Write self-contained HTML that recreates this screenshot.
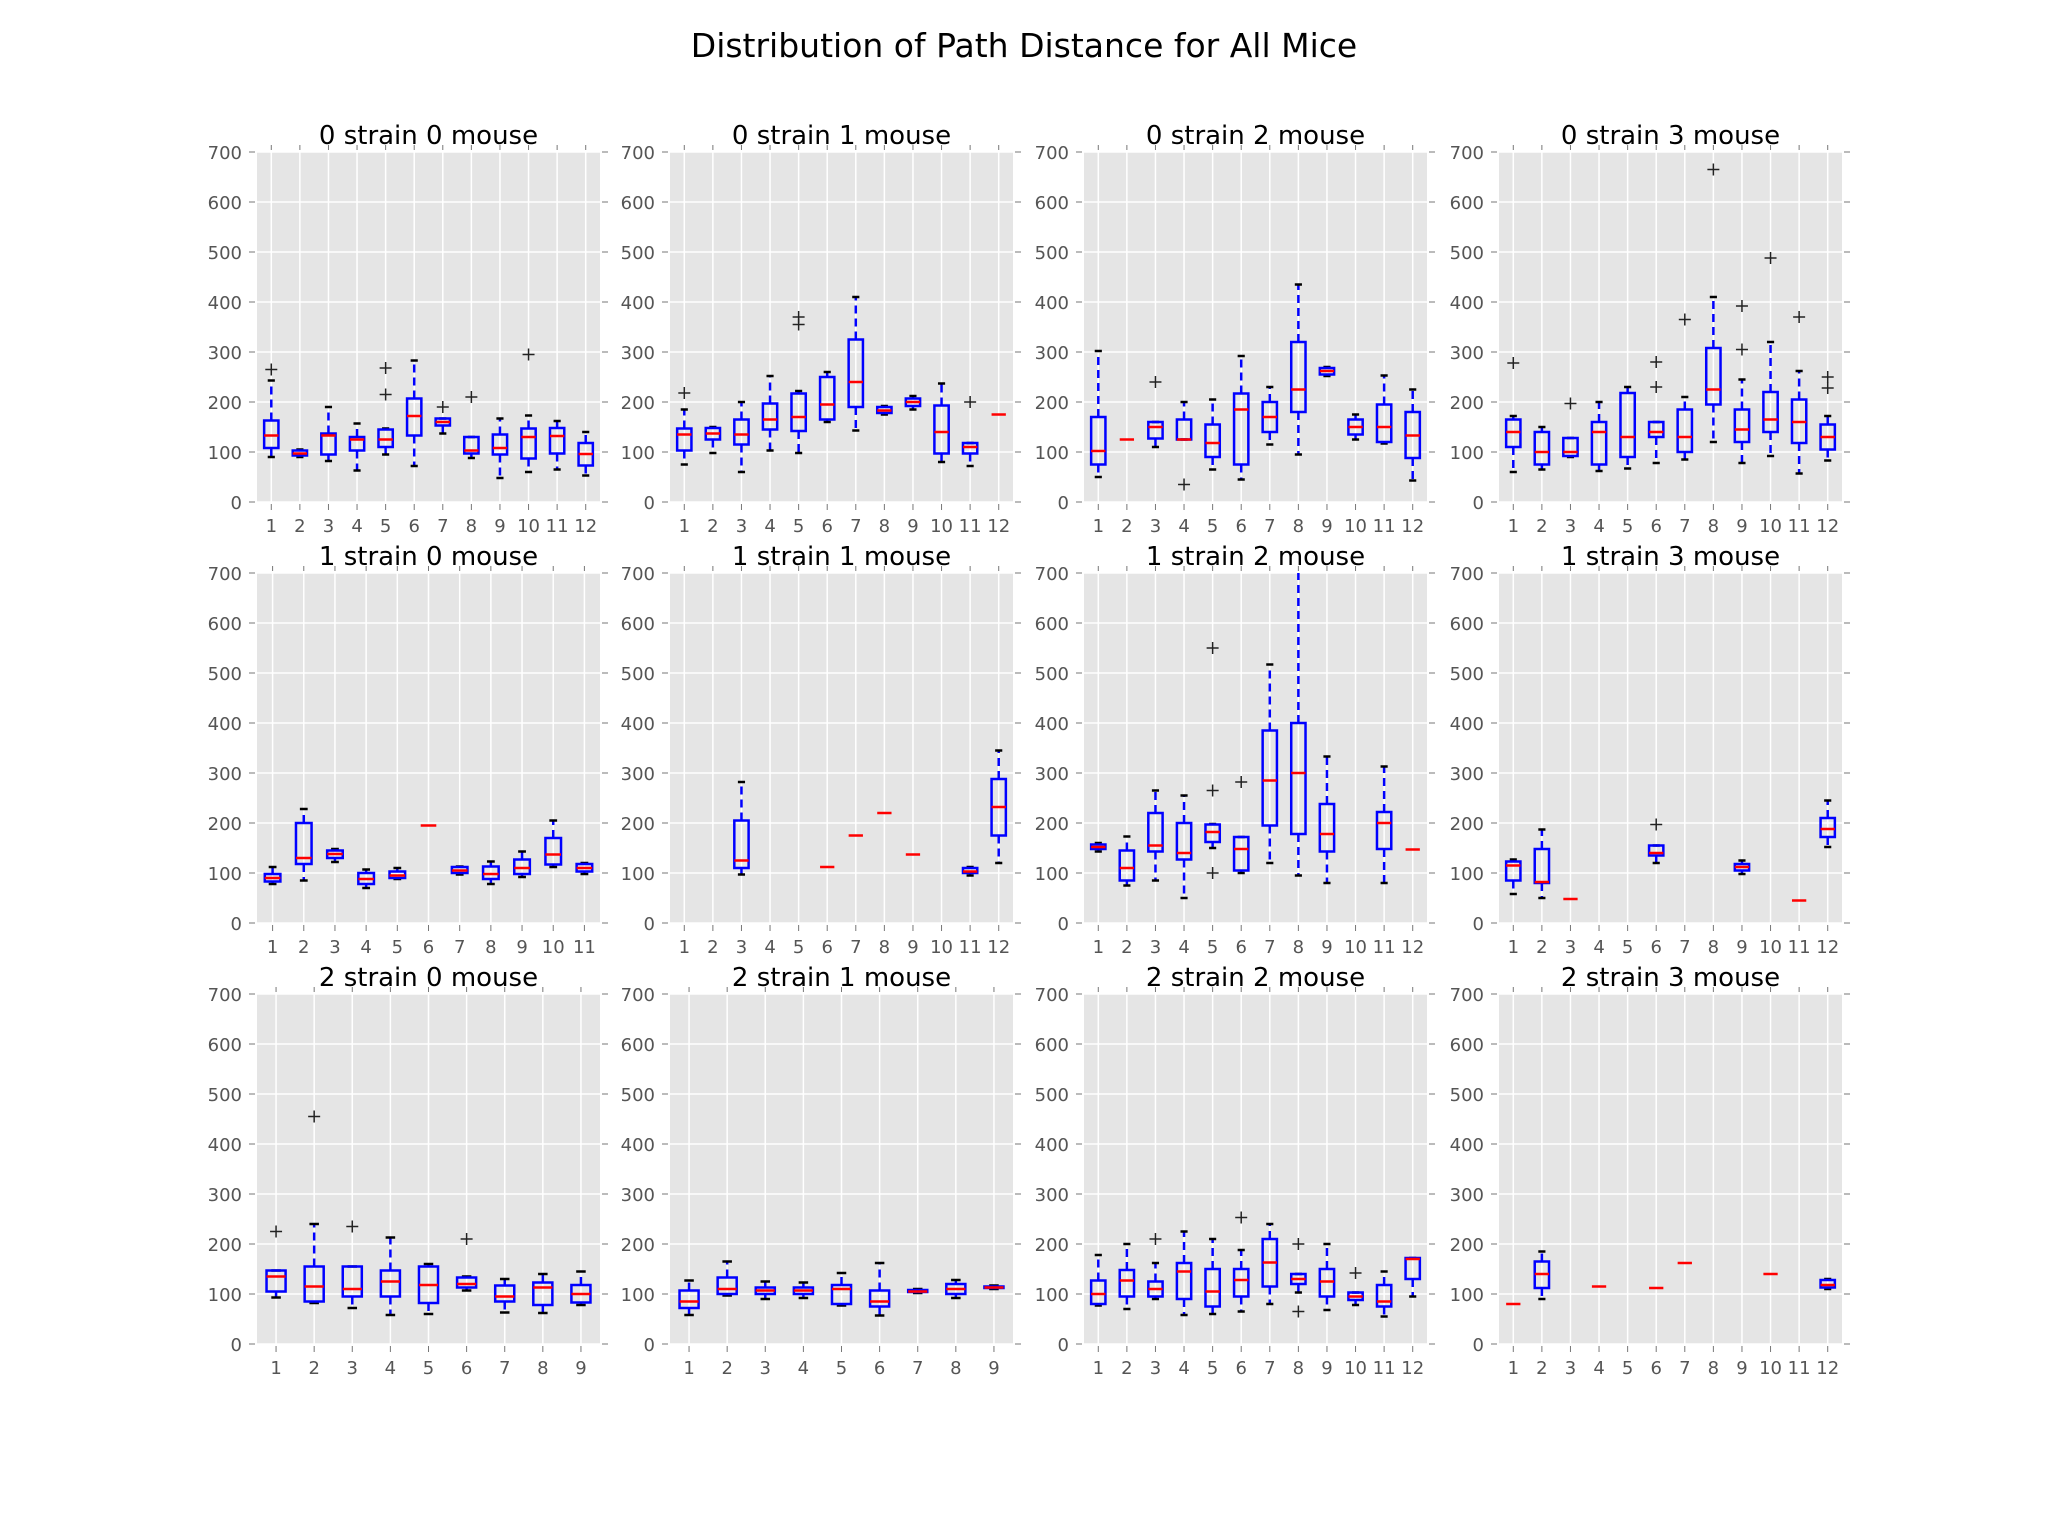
<!DOCTYPE html>
<html><head><meta charset="utf-8"><style>
body{margin:0;background:#fff;}
svg{display:block;font-family:"DejaVu Sans","Liberation Sans",sans-serif;}
</style></head><body>
<svg id="chart" width="2048" height="1536" viewBox="0 0 2048 1536" xmlns="http://www.w3.org/2000/svg">
<rect width="2048" height="1536" fill="#fff"/>
<text x="1024" y="57" text-anchor="middle" font-size="33" fill="#000">Distribution of Path Distance for All Mice</text>
</svg>
<script>
// each box: [whisker-low, q1, median, q3, whisker-high, fliers]; null = empty category
const panelTitles = ["0 strain 0 mouse","0 strain 1 mouse","0 strain 2 mouse","0 strain 3 mouse",
"1 strain 0 mouse","1 strain 1 mouse","1 strain 2 mouse","1 strain 3 mouse",
"2 strain 0 mouse","2 strain 1 mouse","2 strain 2 mouse","2 strain 3 mouse"];
const yTicks = [0,100,200,300,400,500,600,700];
const p00 = [[90,108,133,163,243,[265]],[90,93,97,103,105,[]],[82,95,133,137,190,[]],[63,103,125,130,157,[]],[95,110,125,145,147,[215,268]],[72,133,172,207,283,[]],[137,153,160,167,167,[190]],[88,97,103,130,130,[210]],[48,95,108,135,167,[]],[60,87,130,147,173,[295]],[65,97,132,148,162,[]],[53,73,96,118,140,[]]];
const p01 = [[75,103,135,147,185,[218]],[98,125,137,148,150,[]],[60,115,135,165,200,[]],[103,145,165,197,252,[]],[98,142,170,217,222,[355,370]],[160,165,195,250,260,[]],[143,190,240,325,410,[]],[175,178,183,190,192,[]],[185,192,200,207,212,[]],[80,97,140,193,237,[]],[72,97,110,118,118,[200]],[175,175,175,175,175,[]]];
const p02 = [[50,75,102,170,302,[]],[125,125,125,125,125,[]],[110,127,150,160,160,[240]],[125,125,125,165,200,[35]],[65,90,118,155,205,[]],[45,75,185,217,292,[]],[115,140,170,200,230,[]],[95,180,225,320,435,[]],[252,255,262,268,270,[]],[125,135,150,165,175,[]],[117,120,150,195,253,[]],[43,88,133,180,225,[]]];
const p03 = [[60,110,140,165,172,[278]],[65,75,100,140,150,[]],[90,92,100,128,128,[197]],[62,75,140,160,200,[]],[67,90,130,218,230,[]],[78,130,140,160,160,[230,280]],[85,100,130,185,210,[365]],[120,195,225,308,410,[665]],[78,120,145,185,245,[305,392]],[92,140,165,220,320,[488]],[57,118,160,205,262,[370]],[83,105,130,155,172,[228,250]]];
const p10 = [[78,83,90,98,112,[]],[85,118,130,200,228,[]],[122,130,138,145,148,[]],[70,78,88,100,107,[]],[88,90,95,103,110,[]],[195,195,195,195,195,[]],[97,100,105,112,113,[]],[78,88,98,113,123,[]],[92,98,110,127,143,[]],[112,117,137,170,205,[]],[98,103,110,118,120,[]]];
const p11 = [null,null,[97,110,125,205,282,[]],null,null,[112,112,112,112,112,[]],[175,175,175,175,175,[]],[220,220,220,220,220,[]],[137,137,137,137,137,[]],null,[95,100,103,110,112,[]],[120,175,232,288,345,[]]];
const p12 = [[143,148,152,157,160,[]],[75,85,110,145,173,[]],[85,143,155,220,265,[]],[50,127,140,200,255,[]],[150,162,182,197,198,[100,265,550]],[100,105,148,172,172,[282]],[120,195,285,385,517,[]],[95,178,300,400,700,[]],[80,143,178,238,333,[]],null,[80,148,200,222,313,[]],[147,147,147,147,147,[]]];
const p13 = [[58,85,115,123,127,[]],[50,80,82,148,187,[]],[48,48,48,48,48,[]],null,null,[120,135,140,155,155,[197]],null,null,[98,105,112,118,125,[]],null,[45,45,45,45,45,[]],[152,172,188,210,245,[]]];
const p20 = [[93,105,135,147,147,[225]],[82,85,115,155,240,[455]],[72,95,110,155,155,[235]],[58,95,125,147,213,[]],[60,82,118,155,160,[]],[107,113,120,133,135,[210]],[63,85,95,117,130,[]],[62,78,113,123,140,[]],[78,83,100,118,145,[]]];
const p21 = [[58,72,85,107,127,[]],[97,100,110,133,165,[]],[90,100,107,113,125,[]],[92,100,107,113,123,[]],[77,80,110,118,142,[]],[57,75,85,107,162,[]],[102,104,105,108,110,[]],[92,100,110,120,128,[]],[110,112,113,115,117,[]]];
const p22 = [[77,80,100,127,178,[]],[70,95,127,148,200,[]],[90,95,110,125,162,[210]],[58,90,145,162,225,[]],[60,75,105,150,210,[]],[65,95,128,150,188,[253]],[80,115,163,210,240,[]],[103,120,130,140,140,[65,200]],[68,95,125,150,200,[]],[78,88,95,103,103,[142]],[55,75,85,118,145,[]],[95,130,170,172,172,[]]];
const p23 = [[80,80,80,80,80,[]],[90,112,140,165,185,[]],null,[115,115,115,115,115,[]],null,[112,112,112,112,112,[]],[162,162,162,162,162,[]],null,null,[140,140,140,140,140,[]],null,[110,113,118,128,130,[]]];
const panels = [p00,p01,p02,p03,p10,p11,p12,p13,p20,p21,p22,p23];

const NS="http://www.w3.org/2000/svg";
const svg=document.getElementById('chart');
const colL=[257,670,1084,1499], rowT=[152,573,994], PW=343, PH=350;
function mk(tag,attrs,parent){const e=document.createElementNS(NS,tag);for(const k in attrs)e.setAttribute(k,attrs[k]);(parent||svg).appendChild(e);return e;}

panels.forEach((data,pi)=>{
  const L=colL[pi%4], T=rowT[Math.floor(pi/4)], n=data.length;
  const g=mk('g',{});
  
  
  const xs=v=>L+(v-0.5)/n*PW;
  const ys=v=>T+PH-v/700*PH;
  const bg=mk('rect',{x:L,y:T,width:PW,height:PH,fill:'#e5e5e5'},g);
  
  
  const tt=mk('text',{x:L+PW/2,y:T-8,'text-anchor':'middle','font-size':26,fill:'#000'},g);
  tt.textContent=panelTitles[pi];
  
  
  yTicks.forEach(t=>{
    const y=ys(t);
    mk('line',{x1:L,x2:L+PW,y1:y,y2:y,stroke:'#fff','stroke-width':1.5},g);
    mk('line',{x1:L-8,x2:L-2,y1:y,y2:y,stroke:'#777','stroke-width':1},g);
    mk('line',{x1:L+PW+2,x2:L+PW+8,y1:y,y2:y,stroke:'#777','stroke-width':1},g);
    const lb=mk('text',{x:L-15,y:y+7,'text-anchor':'end','font-size':18,fill:'#555'},g);
    lb.textContent=t;
    
    
  });
  for(let i=1;i<=n;i++){
    const x=xs(i);
    mk('line',{x1:x,x2:x,y1:T,y2:T+PH,stroke:'#fff','stroke-width':1.5},g);
    mk('line',{x1:x,x2:x,y1:T-7,y2:T-2,stroke:'#777','stroke-width':1},g);
    mk('line',{x1:x,x2:x,y1:T+PH+2,y2:T+PH+8,stroke:'#777','stroke-width':1},g);
    const lb=mk('text',{x:x,y:T+PH+30,'text-anchor':'middle','font-size':18,fill:'#555'},g);
    lb.textContent=i;
    
    
  }
  const bw=PW/n*0.5, cw=bw*0.5;
  data.forEach((b,i)=>{
    if(!b) return;
    const x=xs(i+1);
    const bg2=mk('g',{},g);
    
    
    const [lo,q1,md,q3,hi,fl]=b;
    const yhi=Math.max(ys(hi),T);
    if(q3>q1||hi>lo){
      mk('line',{x1:x,x2:x,y1:ys(q3),y2:yhi,stroke:'#0000ff','stroke-width':2.5,'stroke-dasharray':'8,5'},bg2);
      mk('line',{x1:x,x2:x,y1:ys(q1),y2:ys(lo),stroke:'#0000ff','stroke-width':2.5,'stroke-dasharray':'8,5'},bg2);
      if(hi<700) mk('line',{x1:x-cw/2,x2:x+cw/2,y1:ys(hi),y2:ys(hi),stroke:'#000','stroke-width':2.5},bg2);
      mk('line',{x1:x-cw/2,x2:x+cw/2,y1:ys(lo),y2:ys(lo),stroke:'#000','stroke-width':2.5},bg2);
      mk('rect',{x:x-bw/2,y:ys(q3),width:bw,height:Math.max(ys(q1)-ys(q3),1),fill:'none',stroke:'#0000ff','stroke-width':2.5},bg2);
    }
    mk('line',{x1:x-bw/2,x2:x+bw/2,y1:ys(md),y2:ys(md),stroke:'#ff0000','stroke-width':2.5},bg2);
    fl.forEach(f=>{
      const fy=ys(f);
      mk('line',{x1:x-6,x2:x+6,y1:fy,y2:fy,stroke:'#222','stroke-width':1.5},bg2);
      mk('line',{x1:x,x2:x,y1:fy-6,y2:fy+6,stroke:'#222','stroke-width':1.5},bg2);
    });
  });
});
</script>
</body></html>
